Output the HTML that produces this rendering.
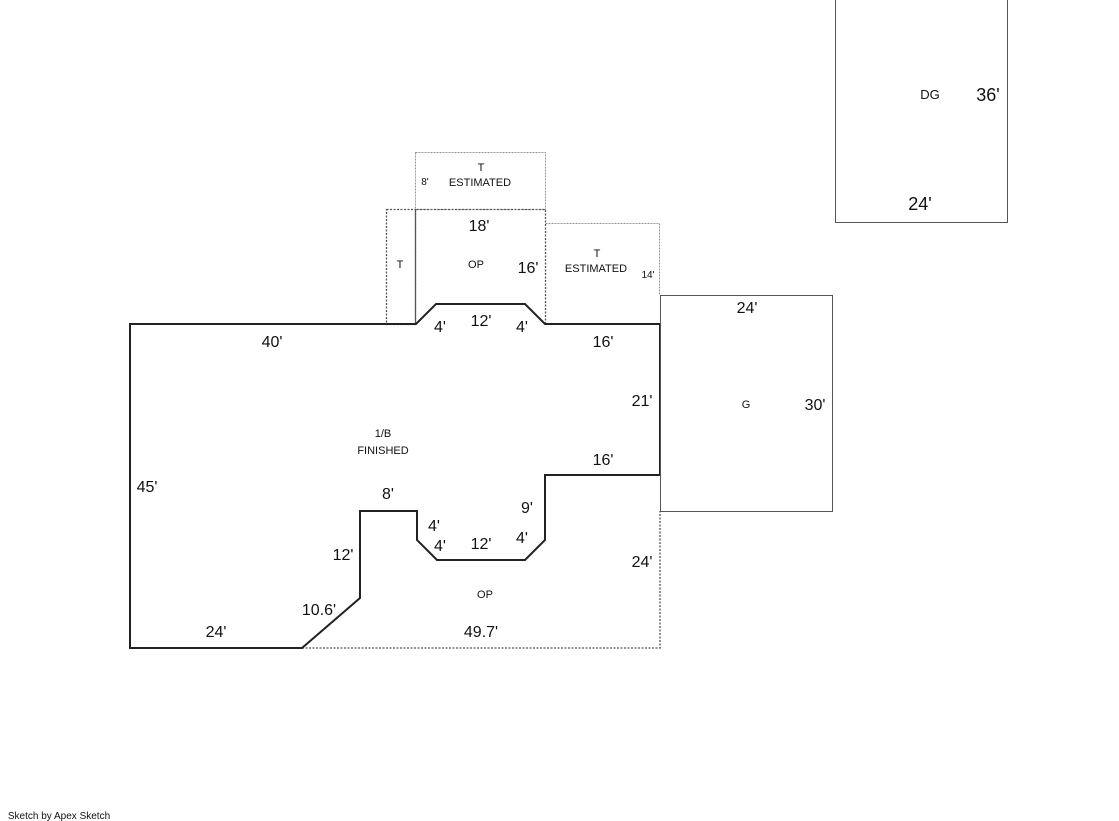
<!DOCTYPE html>
<html><head><style>body{margin:0;background:#fff}svg{display:block}</style></head><body>
<svg width="1119" height="821" xmlns="http://www.w3.org/2000/svg" font-family="Liberation Sans, DejaVu Sans, sans-serif">
<g fill="none" stroke="#999" stroke-width="1" stroke-dasharray="2,1">
<rect x="415.5" y="152.5" width="130" height="57"/>
<polyline points="545.5,223.5 659.5,223.5 659.5,295"/>
</g>
<g fill="none" stroke="#555" stroke-width="1.3" stroke-dasharray="2,1.5">
<rect x="386.5" y="209.5" width="29" height="115"/>
<polyline points="415.5,324 415.5,209.5 545.5,209.5 545.5,324"/>
<polyline points="302,648 660,648 660,511"/>
<line x1="416" y1="324" x2="436" y2="304"/>
</g>
<polygon points="130,324 416,324 436,304 525,304 545,324 660,324 660,475 545,475 545,540 525,560 437,560 417,540 417,511 360,511 360,598 302,648 130,648" fill="none" stroke="#222" stroke-width="2"/>
<rect x="660.5" y="295.5" width="172" height="216" fill="none" stroke="#555" stroke-width="1"/>
<rect x="835.5" y="-2" width="172" height="224.5" fill="none" stroke="#555" stroke-width="1"/>
<g font-size="16" fill="#111" text-anchor="middle">
<text x="479" y="231">18'</text>
<text x="528" y="273">16'</text>
<text x="440" y="332">4'</text>
<text x="481" y="326">12'</text>
<text x="522" y="332">4'</text>
<text x="272" y="347">40'</text>
<text x="603" y="347">16'</text>
<text x="642" y="406">21'</text>
<text x="747" y="313">24'</text>
<text x="815" y="410">30'</text>
<text x="147" y="492">45'</text>
<text x="603" y="465">16'</text>
<text x="388" y="499">8'</text>
<text x="527" y="513">9'</text>
<text x="434" y="531">4'</text>
<text x="440" y="551">4'</text>
<text x="481" y="549">12'</text>
<text x="522" y="543">4'</text>
<text x="343" y="560">12'</text>
<text x="642" y="567">24'</text>
<text x="319" y="615">10.6'</text>
<text x="216" y="637">24'</text>
<text x="481" y="637">49.7'</text>
<text x="920" y="210" font-size="18">24'</text>
<text x="988" y="101" font-size="18">36'</text>
</g>
<g font-size="11" fill="#111" text-anchor="middle">
<text x="481" y="171">T</text>
<text x="480" y="186">ESTIMATED</text>
<text x="425" y="185" font-size="10">8'</text>
<text x="400" y="268">T</text>
<text x="476" y="268">OP</text>
<text x="597" y="257">T</text>
<text x="596" y="272">ESTIMATED</text>
<text x="648" y="278" font-size="10">14'</text>
<text x="383" y="437">1/B</text>
<text x="383" y="454">FINISHED</text>
<text x="746" y="408">G</text>
<text x="485" y="598">OP</text>
<text x="930" y="99" font-size="13">DG</text>
<text x="59" y="819" font-size="10">Sketch by Apex Sketch</text>
</g>
</svg>
</body></html>
